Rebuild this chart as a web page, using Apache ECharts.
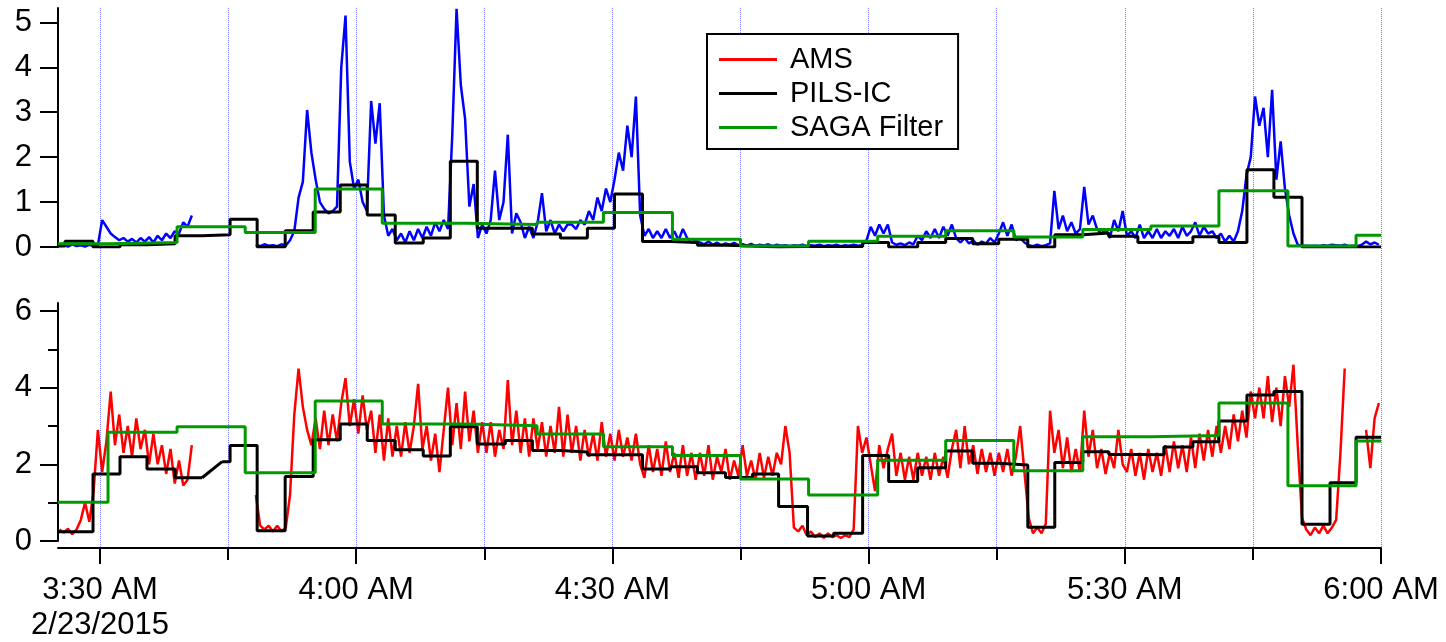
<!DOCTYPE html>
<html><head><meta charset="utf-8">
<script src="https://cdn.jsdelivr.net/npm/echarts@6/dist/echarts.min.js"></script>
<style>html,body{margin:0;padding:0;background:#fff}#c{width:1446px;height:642px}</style>
</head><body><div id="c"></div>
<script>
// Time is in minutes after 3:00 AM on 2/23/2015
const xMin = 25.08, xMax = 180;
const xLabelTicks = [30, 60, 90, 120, 150, 180];
const xMinorTicks = [30, 45, 60, 75, 90, 105, 120, 135, 150, 165, 180];
const topYTicks = [0, 1, 2, 3, 4, 5];
const botYTicks = [0, 2, 4, 6];
const botYMinor = [1, 3, 5];
const dateLabel = '2/23/2015';

// AMS sampled every 0.5 min from 3:25:15
const amsStart = 25.25, amsStep = 0.5;
const amsTop = [
 0.02,0.05,0.01,0.06,0.02,0.04,0.01,0.05,0.02,0.04,
 0.6,0.45,0.3,0.22,0.15,0.2,0.12,0.18,0.1,0.2,
 0.12,0.22,0.1,0.25,0.15,0.3,0.2,0.35,0.3,0.55,
 0.45,0.7,null,null,null,null,null,null,null,null,
 null,null,null,null,null,null,0.05,0.02,0.06,0.03,
 0.04,0.02,0.06,0.03,0.15,0.35,1.1,1.45,3.05,2.1,
 1.5,1.0,0.85,0.75,0.8,0.9,4.0,5.15,1.9,1.3,
 1.5,1.0,0.8,3.25,2.3,3.2,0.7,0.25,0.4,0.15,
 0.3,0.1,0.35,0.15,0.4,0.2,0.45,0.25,0.55,0.35,
 0.6,0.4,2.5,5.3,3.6,2.85,0.9,1.4,0.2,0.5,
 0.3,0.6,1.7,0.6,1.0,2.5,0.3,0.75,0.55,0.2,
 0.45,0.2,0.55,1.2,0.35,0.6,0.3,0.5,0.35,0.5,
 0.5,0.4,0.6,0.5,0.8,0.6,1.1,0.8,1.3,1.0,
 1.5,2.1,1.7,2.7,2.0,3.35,0.7,0.25,0.4,0.2,
 0.35,0.2,0.4,0.2,0.35,0.15,0.4,0.2,0.1,0.15,
 0.1,0.06,0.12,0.05,0.1,0.04,0.08,0.05,0.09,0.04,
 0.06,0.03,0.07,0.02,0.05,0.03,0.06,0.02,0.05,0.03,
 0.04,0.02,0.04,0.03,0.05,0.02,0.04,0.03,0.05,0.02,
 0.04,0.03,0.05,0.02,0.04,0.03,0.05,0.03,0.04,0.15,
 0.45,0.25,0.5,0.3,0.5,0.1,0.05,0.08,0.04,0.1,
 0.06,0.25,0.15,0.35,0.2,0.4,0.2,0.45,0.25,0.5,
 0.2,0.1,0.2,0.08,0.15,0.05,0.12,0.08,0.2,0.1,
 0.3,0.55,0.25,0.5,0.15,0.2,0.1,0.04,0.02,0.05,
 0.02,0.04,0.08,1.25,0.4,0.7,0.35,0.55,0.3,0.4,
 1.34,0.5,0.7,0.4,0.3,0.4,0.2,0.6,0.35,0.8,
 0.25,0.35,0.2,0.5,0.2,0.35,0.2,0.4,0.2,0.35,
 0.25,0.4,0.2,0.45,0.25,0.35,0.55,0.25,0.45,0.3,
 0.35,0.2,0.3,0.12,0.25,0.12,0.35,0.8,1.6,2.0,
 3.35,2.7,3.1,2.0,3.5,1.5,2.35,1.3,0.7,0.3,
 0.05,0.02,0.03,0.02,0.03,0.02,0.04,0.03,0.05,0.04,
 0.03,0.05,0.02,0.03,0.02,0.05,0.12,0.06,0.1,0.05
];
const amsBottom = [
 0.3,0.22,0.32,0.18,0.3,0.55,1.0,0.5,1.3,2.9,
 1.8,2.6,3.9,2.5,3.3,2.3,3.0,2.2,3.2,2.4,
 2.9,2.0,2.8,2.0,2.5,1.75,2.4,1.5,2.1,1.45,
 1.6,2.5,null,null,null,null,null,null,null,null,
 null,null,null,null,null,null,1.2,0.4,0.3,0.4,
 0.25,0.4,0.25,0.35,1.2,3.3,4.5,3.5,2.9,2.5,
 3.2,2.4,3.4,2.5,3.3,2.6,3.6,4.25,3.0,3.7,
 2.8,3.8,2.9,3.4,2.3,3.3,2.1,3.2,2.2,3.0,
 2.2,3.1,2.3,3.0,4.1,2.4,3.0,2.1,2.8,1.8,
 2.9,4.0,2.5,3.6,2.4,3.9,2.6,3.4,2.3,3.1,
 2.3,3.1,2.2,2.9,2.4,4.2,2.5,3.4,2.3,3.2,
 2.2,3.2,2.4,3.1,2.2,3.0,2.3,3.5,2.2,3.3,
 2.3,3.0,2.1,2.9,2.2,2.8,2.1,3.1,2.2,2.8,
 2.1,2.9,2.2,2.7,2.1,2.8,2.0,1.65,2.5,1.8,
 2.4,1.7,2.6,1.8,2.3,1.65,2.5,1.7,2.3,1.6,
 2.3,1.7,2.5,1.6,2.2,1.8,2.4,1.6,2.1,1.7,
 2.5,1.7,2.1,1.6,2.3,1.65,2.2,1.7,2.3,2.0,
 3.0,2.3,0.35,0.25,0.4,0.15,0.25,0.1,0.2,0.08,
 0.2,0.1,0.15,0.08,0.15,0.1,0.3,3.0,2.3,2.7,
 2.0,1.3,2.5,1.9,2.4,2.8,1.7,2.3,1.6,2.2,
 1.6,2.3,1.7,2.2,1.6,2.3,1.7,2.2,1.65,2.4,
 2.9,1.9,3.0,2.0,2.5,1.75,2.4,1.8,2.3,1.7,
 2.3,1.8,2.4,1.7,2.2,3.0,1.8,0.6,0.2,0.35,
 0.2,0.45,3.4,2.3,2.9,1.9,2.7,1.8,2.4,1.8,
 3.4,2.2,2.9,1.9,2.4,1.75,2.3,1.9,2.9,2.0,
 1.8,2.4,1.7,2.3,1.6,2.4,1.8,2.3,1.7,2.5,
 1.8,2.6,1.9,2.5,1.8,2.7,1.9,2.8,2.1,2.9,
 2.2,3.0,2.3,3.0,2.4,3.3,2.6,3.4,2.7,3.9,
 3.2,4.0,3.2,4.3,3.1,4.0,3.0,4.3,3.5,4.6,
 2.5,0.6,0.3,0.15,0.35,0.2,0.4,0.2,0.35,0.55,
 2.3,4.5,null,null,null,null,2.9,1.9,3.2,3.6
];

// PILS-IC sample intervals (edges) and values
const pilsTopTimes = [25.08,25.9,29.18,32.34,35.5,38.79,41.95,45.23,48.4,51.68,54.96,58.13,61.29,64.57,67.85,71.02,74.18,77.46,80.63,83.91,87.07,90.24,93.52,96.8,99.96,103.24,106.41,109.46,112.85,115.9,119.3,122.35,125.75,129.03,132.19,135.24,138.64,141.8,145.08,148.13,151.53,154.57,157.97,161.02,164.3,167.46,170.75,174.03,177.08,180.0];
const pilsTopValues = [0.02,0.13,0.0,0.05,0.07,0.25,0.27,0.62,0.0,0.36,0.78,1.38,0.71,0.09,0.2,1.91,0.42,0.42,0.29,0.2,0.42,1.18,0.12,0.1,0.04,0.02,0.0,0.01,0.01,0.01,0.1,0.0,0.1,0.19,0.07,0.17,0.0,0.27,0.31,0.24,0.1,0.1,0.23,0.1,1.72,1.11,0.0,0.0,0.0];
const pilsBotTimes = [25.08,29.18,32.34,35.5,38.79,41.95,44.3,45.23,48.4,51.68,54.96,58.13,61.29,64.57,67.85,71.02,74.18,77.46,80.63,83.91,87.07,90.24,93.52,96.8,99.96,103.24,106.41,109.46,112.85,115.9,119.3,122.35,125.75,129.03,132.19,135.24,138.64,141.8,145.08,148.13,151.53,154.57,157.97,161.02,164.3,167.46,170.75,174.03,177.08,180.0];
const pilsBotValues = [0.24,1.75,2.2,1.88,1.65,null,2.07,2.49,0.27,1.68,2.64,3.05,2.62,2.38,2.22,2.98,2.53,2.62,2.36,2.32,2.25,2.25,1.88,1.94,1.78,1.66,1.75,0.9,0.13,0.2,2.23,1.55,1.91,2.35,2.03,1.98,0.36,2.05,2.33,2.26,2.25,2.45,2.59,3.13,3.81,3.9,0.44,1.52,2.71];
const pilsBotRamp = [[41.95,1.65],[44.3,2.07]];

// SAGA filter intervals
const sagaTimes = [25.08,30.94,39.02,47.0,55.2,63.05,72.97,81.18,88.95,97.03,105.0,112.97,121.06,129.03,137.0,145.08,153.05,161.02,169.1,177.08,180.0];
const sagaTopValues = [0.07,0.1,0.45,0.32,1.29,0.53,0.5,0.55,0.77,0.17,0.02,0.13,0.24,0.36,0.22,0.39,0.47,1.25,0.02,0.26];
const sagaBotValues = [1.01,2.84,2.98,1.78,3.65,3.05,3.01,2.79,2.46,2.23,1.62,1.2,2.11,2.62,1.83,2.72,2.75,3.6,1.44,2.61];

const FONT = 'Liberation Sans, Arial, sans-serif';
const BLUE = '#0000ff', RED = '#ff0000', BLACK = '#000000', GREEN = '#009a00';

function sampled(vals){ return vals.map((v,i)=>[amsStart + i*amsStep, v]); }
function steps(times, vals){
  const out = [];
  for (let i = 0; i < vals.length; i++) {
    if (vals[i] === null) { out.push([times[i], null]); continue; }
    out.push([times[i], vals[i]]);
    out.push([times[i+1], vals[i]]);
  }
  return out;
}
function fmtTime(v){
  const tot = 180 + v;
  const h = Math.floor(tot/60), m = Math.round(tot % 60);
  let s = h + ':' + (m < 10 ? '0' + m : m) + ' AM';
  if (v === xLabelTicks[0]) s += '\n' + dateLabel;
  return s;
}

const axisLineStyle = {color: BLACK, width: 2};
const chart = echarts.init(document.getElementById('c'), null, {renderer: 'canvas'});
const line = (name, data, color, width, xi, yi, z) => ({
  name, type: 'line', data, xAxisIndex: xi, yAxisIndex: yi, symbol: 'none', showSymbol: false,
  lineStyle: {color, width}, itemStyle: {color}, z, silent: true, connectNulls: false,
  emphasis: {disabled: true}, animation: false
});

chart.setOption({
  animation: false,
  backgroundColor: '#ffffff',
  textStyle: {fontFamily: FONT},
  grid: [
    {left: 58, right: 65, top: 8, height: 239, outerBoundsMode: 'none'},
    {left: 58, right: 65, top: 303, height: 238, outerBoundsMode: 'none'},
    {left: 58, right: 65, top: 8, height: 540, outerBoundsMode: 'none'}
  ],
  xAxis: [
    {gridIndex: 0, type: 'value', min: xMin, max: xMax, show: false},
    {gridIndex: 1, type: 'value', min: xMin, max: xMax, show: false},
    {gridIndex: 2, type: 'value', min: xMin, max: xMax, position: 'bottom',
      axisLine: {show: true, onZero: false, lineStyle: axisLineStyle},
      axisTick: {show: true, customValues: xLabelTicks, length: 16, lineStyle: axisLineStyle},
      axisLabel: {show: true, customValues: xLabelTicks, formatter: fmtTime, margin: 25,
        fontSize: 31, lineHeight: 35, color: BLACK, fontFamily: FONT, align: 'center'},
      splitLine: {show: false}},
    {gridIndex: 2, type: 'value', min: xMin, max: xMax, position: 'bottom',
      axisLine: {show: false, onZero: false},
      axisTick: {show: true, customValues: xMinorTicks, length: 12, lineStyle: axisLineStyle},
      axisLabel: {show: false},
      splitLine: {show: true, lineStyle: {color: '#7a7aff', type: 'dotted', width: 1}}}
  ],
  yAxis: [
    {gridIndex: 0, type: 'value', min: 0, max: 5.32, position: 'left',
      axisLine: {show: true, onZero: false, lineStyle: axisLineStyle},
      axisTick: {show: true, customValues: topYTicks, length: 18, lineStyle: axisLineStyle},
      axisLabel: {customValues: topYTicks, margin: 26, fontSize: 31, color: BLACK, fontFamily: FONT},
      splitLine: {show: false}},
    {gridIndex: 1, type: 'value', min: 0, max: 6.21, position: 'left',
      axisLine: {show: true, onZero: false, lineStyle: axisLineStyle},
      axisTick: {show: true, customValues: botYTicks, length: 18, lineStyle: axisLineStyle},
      axisLabel: {customValues: botYTicks, margin: 26, fontSize: 31, color: BLACK, fontFamily: FONT},
      splitLine: {show: false}},
    {gridIndex: 2, type: 'value', min: 0, max: 1, show: false},
    {gridIndex: 1, type: 'value', min: 0, max: 6.21, position: 'left', offset: 0,
      axisLine: {show: false, onZero: false},
      axisTick: {show: true, customValues: botYMinor, length: 10, lineStyle: axisLineStyle},
      axisLabel: {show: false}, splitLine: {show: false}}
  ],
  legend: {
    data: ['AMS', 'PILS-IC', 'SAGA Filter'],
    orient: 'vertical', left: 707, top: 34,
    backgroundColor: '#ffffff', borderColor: BLACK, borderWidth: 2, borderRadius: 0,
    padding: [11, 15, 7, 12], itemGap: 5, itemWidth: 58, itemHeight: 3, icon: 'rect',
    selectedMode: false,
    textStyle: {fontSize: 29, color: BLACK, fontFamily: FONT, padding: [0, 0, 0, 8]}
  },
  series: [
    line('AMS (upper)', sampled(amsTop), BLUE, 2.5, 0, 0, 2),
    line('PILS-IC', steps(pilsTopTimes, pilsTopValues), BLACK, 3, 0, 0, 3),
    line('SAGA Filter', steps(sagaTimes, sagaTopValues), GREEN, 3, 0, 0, 4),
    line('AMS', sampled(amsBottom), RED, 2.5, 1, 1, 2),
    line('PILS-IC', steps(pilsBotTimes, pilsBotValues), BLACK, 3, 1, 1, 3),
    line('PILS-IC', pilsBotRamp, BLACK, 3, 1, 1, 3),
    line('SAGA Filter', steps(sagaTimes, sagaBotValues), GREEN, 3, 1, 1, 4)
  ]
});
</script></body></html>
